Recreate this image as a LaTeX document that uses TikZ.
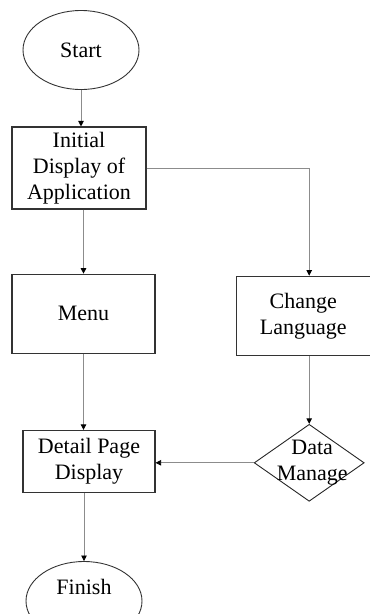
\documentclass[tikz,border=0pt]{standalone}
\usepackage{fontspec}
\setmainfont{Liberation Serif}
\usetikzlibrary{positioning,shapes.geometric,arrows.meta}

\tikzset{
  terminal/.style={ellipse, draw=black!80, line width=0.9pt, inner sep=0pt,
    minimum width=116pt, minimum height=79pt},
  process/.style={rectangle, draw=black!80, line width=1.2pt, inner sep=0pt, align=center},
  decision/.style={diamond, draw=black!85, line width=0.9pt, inner sep=0pt,
    minimum width=110pt, minimum height=77pt},
  flow/.style={draw=black!45, line width=0.8pt,
    -{Triangle[color=black, width=5.5pt, length=5.5pt]}}
}

\begin{document}
\begin{tikzpicture}[font=\fontsize{22pt}{26pt}\selectfont]
    \useasboundingbox (0pt,0pt) rectangle (370pt,-614pt);

    \node[terminal] at (81pt,-50pt) (start) {Start};
    \node[process, minimum width=134pt, minimum height=82pt,
          below=36.5pt of start, xshift=-2pt] (init) {Initial\\Display of\\Application};
    \node[process, minimum width=143pt, minimum height=79pt,
          below=64pt of init, xshift=4.5pt] (menu) {Menu};
    \node[process, minimum width=134pt, minimum height=79pt,
          right=80pt of menu, yshift=-2pt] (lang) {Change\\Language};
    \node[process, minimum width=132pt, minimum height=62pt,
          below=76pt of menu, xshift=5.5pt] (detail) {Detail Page\\Display};
    \node[decision, below=68pt of lang, xshift=6pt] (data) {};
    \node[align=center, inner sep=0pt] at ([xshift=3pt]data) (datatext) {Data\\Manage};
    % text sits in the upper half of the end ellipse
    \node[terminal, text depth=29pt, below=68pt of detail, xshift=-5pt] (finish) {Finish};

    % main column
    \draw[flow] (start.south) -- (start.south |- init.north);
    \draw[flow] (init.south -| menu) -- (menu.north);
    \draw[flow] (menu.south) -- (menu.south |- detail.north);
    \draw[flow] (detail.south -| finish) -- (finish.north);

    % language branch
    \draw[flow] (init.east) -| (data.north |- lang.north);
    \draw[flow] (lang.south -| data) -- (data.north);
    \draw[flow] (data.west) -- (detail.east |- data.west);
\end{tikzpicture}
\end{document}
